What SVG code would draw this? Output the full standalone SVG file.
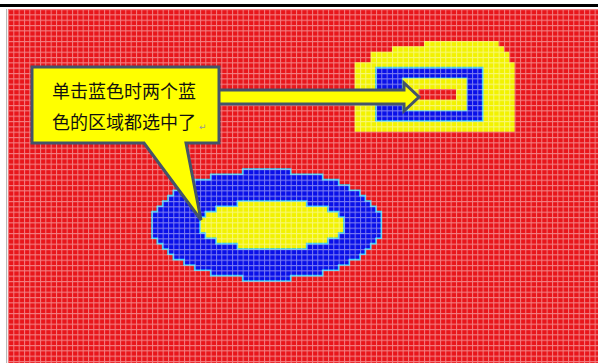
<svg xmlns="http://www.w3.org/2000/svg" width="598" height="363" viewBox="0 0 598 363">
<defs>
<style>
.red{fill:#e8161b}
.blue{fill:#0a10e8;stroke:#22c4f4;stroke-width:1.6;vector-effect:non-scaling-stroke}
.yel{fill:#f2f200}
.yelb{fill:#f2f200;stroke:#22c4f4;stroke-width:1.6;vector-effect:non-scaling-stroke}
.callout{fill:#ffff00;stroke:#44546a;stroke-width:3;stroke-linejoin:miter}
.txt{font-family:"Noto Sans CJK SC","Noto Sans",sans-serif;font-size:18px;fill:#111}
</style>
<pattern id="grid" patternUnits="userSpaceOnUse" x="8" y="9" width="5.333" height="5.333">
<path d="M0,0.5H5.333M0.5,0V5.333" stroke="#ffffff" stroke-opacity="0.45" stroke-width="1" fill="none"/>
</pattern>
</defs>
<rect x="0" y="0" width="598" height="363" fill="#ffffff"/>
<rect x="0" y="4" width="598" height="3" fill="#000"/>
<rect x="6" y="9" width="1.2" height="354" fill="#b8b8b8"/>
<g id="background">
<rect class="red" x="8" y="9" width="590" height="354"/>
</g>
<g id="ellipse-region" transform="translate(8,9) scale(5.333)">
<polygon class="blue" points="44,30 53,30 53,31 59,31 59,32 62,32 62,33 64,33 64,34 66,34 66,35 67,35 67,36 68,36 68,37 69,37 69,38 70,38 70,43 69,43 69,44 68,44 68,45 67,45 67,46 66,46 66,47 64,47 64,48 62,48 62,49 59,49 59,50 53,50 53,51 44,51 44,50 38,50 38,49 35,49 35,48 33,48 33,47 31,47 31,46 30,46 30,45 29,45 29,44 28,44 28,43 27,43 27,38 28,38 28,37 29,37 29,36 30,36 30,35 31,35 31,34 33,34 33,33 35,33 35,32 38,32 38,31 44,31"/>
<polygon class="yelb" points="43,36 56,36 56,37 60,37 60,38 62,38 62,39 63,39 63,42 62,42 62,43 60,43 60,44 56,44 56,45 43,45 43,44 39,44 39,43 37,43 37,42 36,42 36,39 37,39 37,38 39,38 39,37 43,37"/>
</g>
<g id="ring-region" transform="translate(8,9) scale(5.333)">
<polygon class="yel" points="78,6 92,6 92,7 93,7 93,8 94,8 94,10 95,10 95,23 65,23 65,10 68,10 68,8 72,8 72,7 78,7"/>
<path class="blue" fill-rule="evenodd" d="M69,11H89V21H69Z M74,13H86V19H74Z"/>
<rect class="yel" x="74" y="13" width="12" height="6"/>
<rect class="red" x="77" y="15" width="7" height="2"/>
</g>
<rect x="8" y="9" width="590" height="354" fill="url(#grid)"/>
<g id="connectors">
<polygon class="callout" points="212,90 404,90 404,83 419,97 404,111 404,104 212,104"/>
</g>
<g id="callout">
<path class="callout" d="M32,67H219V143H186L201,220L144,143H32Z"/>
<text class="txt" x="52" y="98">单击蓝色时两个蓝</text>
<text class="txt" x="52" y="129">色的区域都选中了</text>
<text x="199" y="130" font-family="DejaVu Sans, sans-serif" font-size="9" fill="#999">↵</text>
</g>
</svg>
